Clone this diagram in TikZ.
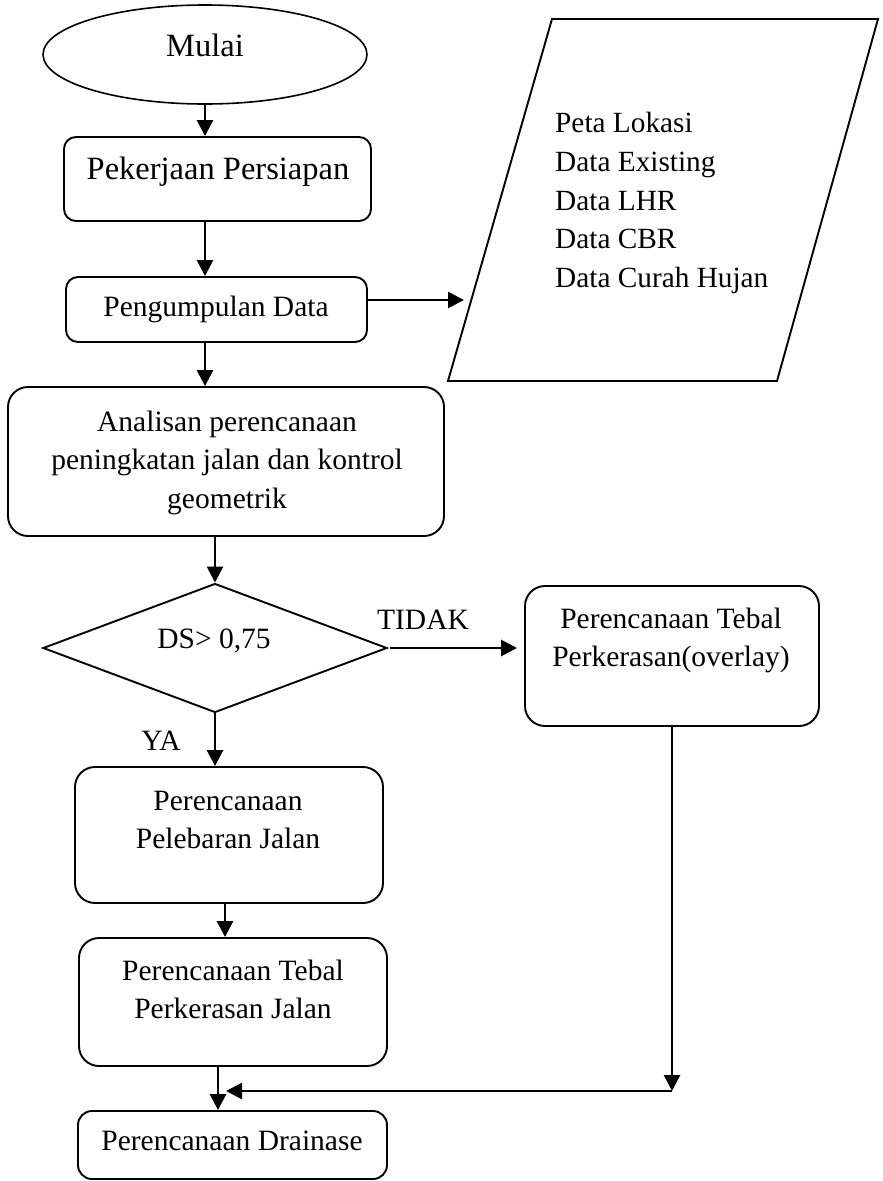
\documentclass[tikz,border=0pt]{standalone}
\usepackage{fontspec}
\setmainfont{Liberation Serif}
\usetikzlibrary{shapes.geometric,arrows.meta,calc}
\begin{document}
\begin{tikzpicture}[x=1pt,y=-1pt,
  box/.style={draw, line width=1.9pt, rectangle, inner sep=0pt, rounded corners=#1},
  box/.default=12pt,
  txt/.style={inner sep=0pt, anchor=base, font=\fontsize{29.5}{38}\selectfont},
  bigtxt/.style={inner sep=0pt, anchor=base, font=\fontsize{32.5}{40}\selectfont},
  ltxt/.style={inner sep=0pt, anchor=base west, font=\fontsize{29.3}{38}\selectfont},
  arr/.style={line width=2.7pt, -{Triangle[length=16pt,width=16pt]}}
]
\useasboundingbox (0,0) rectangle (883,1181);
\fill[white] (0,0) rectangle (883,1181);

% shapes
\node[draw, line width=1.6pt, ellipse, inner sep=0pt, minimum width=324pt, minimum height=99pt] (mulai) at (205,54.5) {};
\node[box, minimum width=307pt, minimum height=84pt] (b1) at (217.5,179) {};
\node[box, minimum width=301pt, minimum height=65pt] (b2) at (216.5,309.5) {};
\draw[line width=1.9pt] (448,381) -- (552,19) -- (878,19) -- (777,381) -- cycle;
\coordinate (datain) at (464,300);
\node[box=20pt, minimum width=436pt, minimum height=149pt] (b3) at (226,461.5) {};
\node[draw, line width=1.9pt, diamond, inner sep=0pt, minimum width=344pt, minimum height=129pt] (dia) at (215,648) {};
\node[box=20pt, minimum width=294pt, minimum height=140pt] (b4) at (672,656) {};
\node[box=20pt, minimum width=308pt, minimum height=136pt] (b5) at (229,835) {};
\node[box=20pt, minimum width=308pt, minimum height=128pt] (b6) at (233,1002) {};
\node[box=14pt, minimum width=309pt, minimum height=68pt] (b7) at (232.5,1145) {};

% texts
\node[bigtxt] (tm) at (205,56) {Mulai};
\node[bigtxt] (t1) at (218,179) {Pekerjaan Persiapan};
\node[txt] (t2) at (216,316) {Pengumpulan Data};
\node[ltxt] (d1) at (555,132) {Peta Lokasi};
\node[ltxt] (d2) at (555,171) {Data Existing};
\node[ltxt] (d3) at (555,210) {Data LHR};
\node[ltxt] (d4) at (555,248.5) {Data CBR};
\node[ltxt] (d5) at (555,287) {Data Curah Hujan};
\node[txt] (t3a) at (227,431) {Analisan perencanaan};
\node[txt] (t3b) at (227,469.5) {peningkatan jalan dan kontrol};
\node[txt] (t3c) at (227,508) {geometrik};
\node[txt] (tds) at (214,648) {DS> 0,75};
\node[txt] (ttidak) at (423,629) {TIDAK};
\node[txt] (t4a) at (671,628) {Perencanaan Tebal};
\node[txt] (t4b) at (671,666.5) {Perkerasan(overlay)};
\node[txt] (tya) at (161,750) {YA};
\node[txt] (t5a) at (228,810) {Perencanaan};
\node[txt] (t5b) at (228,848) {Pelebaran Jalan};
\node[txt] (t6a) at (233,980) {Perencanaan Tebal};
\node[txt] (t6b) at (233,1018) {Perkerasan Jalan};
\node[txt] (t7) at (232,1150) {Perencanaan Drainase};

% connectors
\draw[arr] (mulai.south) -- (mulai.south |- b1.north);
\draw[arr] (mulai.south |- b1.south) -- (mulai.south |- b2.north);
\draw[arr] ([yshift=9.5pt]b2.east) -- (datain);
\draw[arr] (mulai.south |- b2.south) -- (mulai.south |- b3.north);
\draw[arr] (b3.south -| dia.north) -- (dia.north);
\draw[arr] ([xshift=2pt]dia.east) -- ([xshift=-7pt]b4.west |- dia.east);
\draw[arr] (dia.south) -- (dia.south |- b5.north);
\draw[arr] ([xshift=-4pt]b5.south) -- ([xshift=-4pt]b5.south |- b6.north);
\draw[arr] ([xshift=-15pt]b6.south) -- ([xshift=-15pt]b6.south |- b7.north);
\coordinate (corner) at (672,1091);
\coordinate (join) at (226,1091);
\draw[arr] (b4.south) -- (corner);
\draw[arr] (corner) -- (join);
\end{tikzpicture}
\end{document}
